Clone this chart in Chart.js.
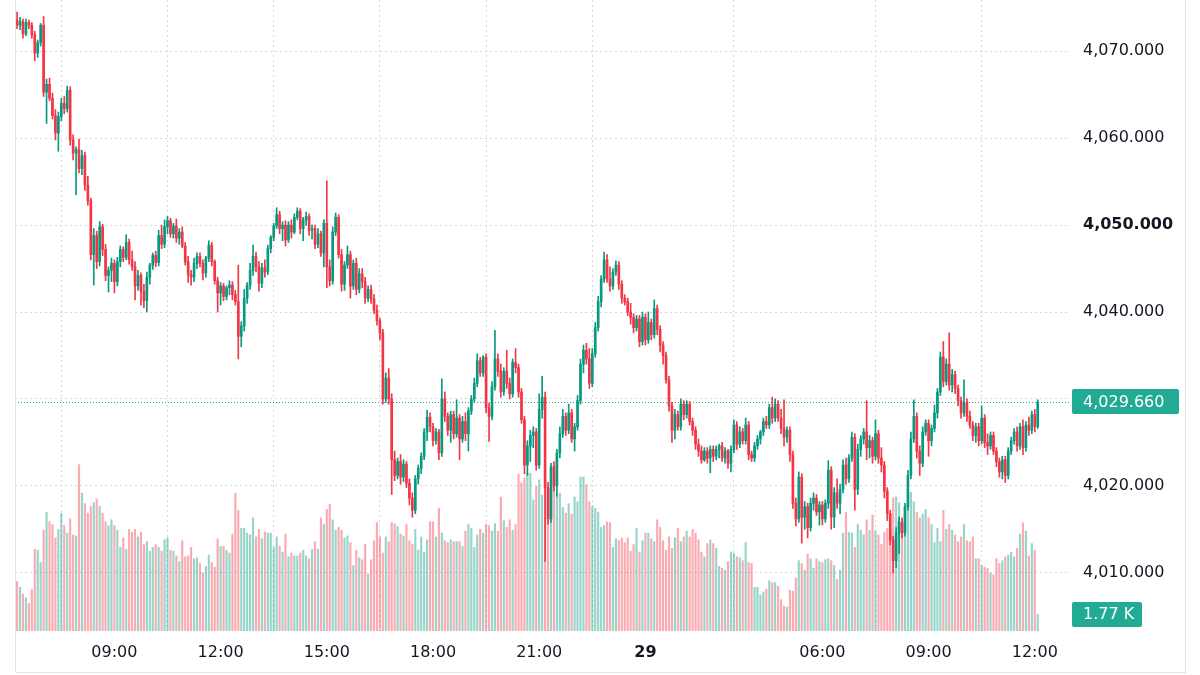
<!DOCTYPE html>
<html>
<head>
<meta charset="utf-8">
<script src="https://cdn.jsdelivr.net/npm/chart.js@4.4.1/dist/chart.umd.min.js"></script>
<style>
  html, body { margin: 0; padding: 0; background: #ffffff; }
  #wrap { width: 1200px; height: 675px; }
</style>
</head>
<body>
<div id="wrap"><canvas id="chart" width="1200" height="675"></canvas></div>
<script>
// 5-minute candles, 06:15 on the 28th to 12:05 on the 29th (market break 05:00-06:00)
const opens = [
  4073.6, 4073.0, 4073.4, 4072.0, 4073.3, 4073.0, 4071.9, 4069.8, 4071.0, 4073.0,
  4065.3, 4066.2, 4064.6, 4062.6, 4060.6, 4062.5, 4064.0, 4063.4, 4065.5, 4059.8,
  4058.3, 4058.7, 4056.5, 4058.0, 4054.6, 4052.8, 4046.6, 4048.8, 4045.8, 4049.8,
  4047.2, 4044.2, 4044.8, 4045.6, 4043.5, 4045.8, 4047.2, 4046.3, 4048.0, 4046.0,
  4045.2, 4043.0, 4044.2, 4042.4, 4041.3, 4044.0, 4045.4, 4046.5, 4045.7, 4048.8,
  4047.8, 4049.8, 4050.5, 4049.0, 4049.9, 4048.5, 4049.2, 4047.6, 4045.8, 4044.3,
  4044.0, 4045.6, 4046.4, 4045.6, 4044.5, 4046.2, 4047.7, 4045.8, 4043.6, 4042.2,
  4043.0, 4041.8, 4042.8, 4043.1, 4042.0, 4041.2, 4037.2, 4038.4, 4041.6, 4043.1,
  4044.8, 4046.4, 4045.2, 4043.3, 4045.1, 4044.6, 4047.3, 4048.6, 4049.9, 4051.2,
  4049.6, 4050.0, 4048.3, 4050.0, 4049.2, 4050.9, 4051.6, 4049.6, 4050.6, 4051.0,
  4049.4, 4049.6, 4047.8, 4049.0, 4046.8, 4050.2, 4045.2, 4043.6, 4049.2, 4050.9,
  4046.6, 4043.2, 4045.4, 4046.6, 4043.0, 4045.6, 4042.6, 4044.4, 4043.5, 4041.6,
  4042.6, 4041.5, 4040.2, 4039.0, 4037.6, 4030.0, 4032.4, 4030.0, 4023.0, 4021.2,
  4022.8, 4021.0, 4022.5, 4020.3, 4018.6, 4017.2, 4020.8, 4022.0, 4023.4, 4026.2,
  4027.9, 4026.8, 4025.2, 4026.2, 4023.8, 4030.0, 4028.0, 4026.4, 4028.2, 4026.0,
  4027.8, 4025.4, 4027.4, 4026.0, 4028.6, 4030.0, 4031.8, 4034.4, 4033.0, 4034.8,
  4029.0, 4028.0, 4031.4, 4034.6, 4033.2, 4030.8, 4033.2, 4031.8, 4030.6, 4034.2,
  4033.6, 4030.8, 4027.6, 4022.4, 4024.6, 4025.8, 4026.2, 4022.4, 4028.8, 4030.2,
  4019.8, 4016.2, 4022.2, 4020.0, 4023.8, 4026.0, 4028.0, 4026.4, 4028.4, 4025.4,
  4026.8, 4029.8, 4034.0, 4035.6, 4034.6, 4031.8, 4035.2, 4038.2, 4041.2, 4043.8,
  4046.0, 4043.8, 4043.0, 4044.6, 4045.4, 4043.2, 4041.6, 4041.2, 4040.0, 4039.4,
  4038.2, 4039.2, 4036.6, 4039.4, 4036.8, 4038.8, 4037.4, 4040.4, 4038.0, 4036.2,
  4035.0, 4032.2, 4029.2, 4026.4, 4028.2, 4026.8, 4029.4, 4028.2, 4029.4, 4027.4,
  4026.4, 4024.8, 4024.0, 4023.0, 4024.0, 4023.2, 4024.2, 4023.4, 4024.2, 4024.6,
  4023.2, 4024.0, 4022.6, 4024.2, 4027.0, 4024.8, 4026.2, 4025.2, 4027.0, 4023.6,
  4023.2, 4024.6, 4025.4, 4026.2, 4027.4, 4027.0, 4029.0, 4027.8, 4029.4, 4027.8,
  4026.6, 4025.6, 4026.4, 4023.6, 4018.0, 4016.2, 4021.0, 4016.4, 4017.6, 4015.2,
  4018.0, 4018.6, 4017.0, 4017.8, 4016.2, 4018.0, 4021.8, 4016.4, 4019.2, 4018.0,
  4019.6, 4022.4, 4020.8, 4023.2, 4025.6, 4019.6, 4024.2, 4025.4, 4026.2, 4024.4,
  4025.2, 4023.4, 4026.0, 4023.2, 4022.4, 4019.4, 4016.8, 4013.8, 4011.4, 4014.6,
  4015.8, 4014.6, 4017.6, 4021.2, 4025.4, 4028.0, 4024.0, 4022.6, 4026.2, 4027.2,
  4025.2, 4026.6, 4028.4, 4030.8, 4034.8, 4032.0, 4034.0, 4031.6, 4032.8, 4031.2,
  4029.8, 4028.4, 4029.6, 4028.0, 4027.0, 4025.8, 4026.8, 4025.2, 4027.8, 4025.0,
  4024.6, 4025.8, 4024.0, 4022.8, 4021.6, 4023.0, 4021.2, 4024.0, 4025.2, 4026.2,
  4024.6, 4026.8, 4024.4, 4027.0, 4026.4, 4028.2, 4026.8
];
const highs = [
  4074.5, 4073.9, 4073.7, 4073.7, 4073.6, 4073.3, 4072.3, 4071.3, 4073.2, 4074.0,
  4066.8, 4066.9, 4065.2, 4063.3, 4063.0, 4064.6, 4064.8, 4066.0, 4065.9, 4060.4,
  4059.0, 4059.9, 4058.6, 4058.4, 4055.6, 4053.1, 4049.6, 4049.3, 4050.4, 4050.1,
  4047.8, 4045.2, 4046.2, 4046.0, 4046.3, 4047.6, 4047.5, 4048.9, 4048.4, 4047.0,
  4045.8, 4044.8, 4044.5, 4043.2, 4044.6, 4045.6, 4046.8, 4047.0, 4049.4, 4050.0,
  4050.6, 4051.0, 4050.8, 4050.2, 4050.7, 4049.6, 4049.8, 4048.0, 4046.4, 4044.8,
  4046.2, 4046.8, 4046.8, 4046.0, 4046.4, 4048.2, 4048.0, 4046.0, 4044.0, 4043.4,
  4043.3, 4043.0, 4043.6, 4043.5, 4042.5, 4045.4, 4038.9, 4042.6, 4043.4, 4045.6,
  4047.7, 4046.9, 4045.8, 4045.6, 4046.0, 4047.7, 4048.8, 4050.2, 4052.0, 4051.6,
  4050.4, 4050.5, 4050.4, 4050.6, 4051.3, 4052.0, 4051.9, 4050.9, 4051.5, 4051.3,
  4050.0, 4050.0, 4049.6, 4049.3, 4050.6, 4055.1, 4046.0, 4049.8, 4051.4, 4051.2,
  4047.2, 4045.8, 4047.6, 4047.0, 4046.0, 4046.2, 4045.0, 4045.0, 4044.0, 4043.0,
  4043.1, 4042.0, 4040.8, 4039.3, 4038.0, 4033.0, 4033.5, 4030.6, 4024.0, 4023.2,
  4023.6, 4023.0, 4022.8, 4020.8, 4019.2, 4021.2, 4022.4, 4023.8, 4026.6, 4028.7,
  4028.4, 4027.2, 4026.6, 4026.5, 4032.3, 4030.8, 4028.4, 4028.6, 4028.6, 4029.9,
  4028.2, 4028.0, 4028.4, 4029.0, 4030.4, 4032.4, 4035.2, 4034.8, 4035.0, 4035.2,
  4029.5, 4032.0, 4037.9, 4035.2, 4034.0, 4033.6, 4035.6, 4032.4, 4034.6, 4035.8,
  4034.0, 4031.2, 4028.0, 4025.2, 4026.4, 4026.8, 4026.6, 4030.6, 4032.6, 4030.8,
  4020.4, 4022.6, 4022.8, 4024.2, 4026.8, 4028.8, 4028.4, 4029.4, 4028.8, 4027.2,
  4030.4, 4034.6, 4036.2, 4036.4, 4035.8, 4035.8, 4038.8, 4041.8, 4044.2, 4046.9,
  4046.6, 4045.2, 4045.0, 4045.9, 4045.8, 4043.6, 4042.0, 4041.6, 4041.0, 4039.8,
  4039.6, 4039.6, 4040.0, 4039.8, 4040.0, 4039.2, 4041.4, 4040.8, 4038.4, 4036.6,
  4035.4, 4032.6, 4029.6, 4028.8, 4028.6, 4030.0, 4029.8, 4029.8, 4029.7, 4027.8,
  4026.8, 4025.4, 4024.6, 4024.4, 4024.4, 4024.6, 4024.6, 4024.6, 4024.8, 4025.0,
  4024.4, 4024.2, 4024.6, 4027.6, 4027.4, 4026.8, 4026.6, 4027.8, 4027.4, 4024.0,
  4025.0, 4025.8, 4026.4, 4027.8, 4028.0, 4029.4, 4030.2, 4030.0, 4029.8, 4028.8,
  4029.9, 4026.8, 4026.8, 4024.0, 4018.6, 4021.6, 4021.4, 4018.2, 4018.0, 4018.6,
  4019.2, 4019.0, 4018.2, 4018.2, 4018.4, 4022.9, 4022.2, 4019.8, 4020.8, 4020.2,
  4023.0, 4023.2, 4023.6, 4026.2, 4026.0, 4024.8, 4025.8, 4026.6, 4029.8, 4025.8,
  4025.6, 4027.6, 4026.4, 4024.4, 4022.8, 4019.8, 4017.2, 4014.2, 4015.2, 4016.4,
  4016.2, 4018.0, 4021.8, 4026.2, 4029.9, 4028.4, 4024.6, 4026.8, 4027.6, 4027.6,
  4027.0, 4029.3, 4031.2, 4035.4, 4036.6, 4034.6, 4037.6, 4033.4, 4033.2, 4031.6,
  4030.2, 4032.2, 4030.0, 4028.6, 4027.4, 4027.2, 4027.2, 4029.2, 4028.2, 4026.0,
  4026.2, 4026.2, 4024.4, 4023.2, 4023.4, 4023.4, 4024.4, 4025.6, 4026.6, 4026.8,
  4027.2, 4027.6, 4027.4, 4027.9, 4028.6, 4028.8, 4029.9
];
const lows = [
  4072.6, 4072.5, 4071.5, 4071.8, 4072.6, 4071.5, 4068.9, 4069.3, 4070.6, 4064.8,
  4061.7, 4064.3, 4062.2, 4059.8, 4058.5, 4062.0, 4062.8, 4063.0, 4059.2, 4057.5,
  4053.5, 4056.0, 4055.8, 4054.0, 4052.3, 4046.0, 4043.1, 4045.0, 4045.3, 4046.5,
  4043.6, 4042.3, 4043.5, 4042.2, 4043.0, 4045.2, 4045.8, 4046.0, 4045.5, 4044.8,
  4041.4, 4042.5, 4040.8, 4040.5, 4040.0, 4043.2, 4044.9, 4045.2, 4045.3, 4047.3,
  4047.4, 4049.0, 4048.6, 4048.5, 4048.0, 4047.8, 4047.4, 4045.4, 4043.4, 4043.1,
  4043.5, 4045.0, 4045.2, 4043.7, 4044.0, 4045.8, 4045.3, 4043.2, 4040.0, 4040.8,
  4041.3, 4041.4, 4042.0, 4041.4, 4040.8, 4034.6, 4036.0, 4037.8, 4041.0, 4042.6,
  4044.2, 4044.6, 4042.4, 4042.8, 4044.0, 4044.3, 4046.8, 4048.2, 4049.6, 4049.0,
  4048.2, 4047.6, 4048.0, 4048.5, 4049.0, 4050.6, 4049.0, 4048.2, 4050.0, 4048.8,
  4048.4, 4047.3, 4047.4, 4046.4, 4045.2, 4042.8, 4043.0, 4043.2, 4048.8, 4046.2,
  4042.4, 4042.5, 4045.0, 4041.6, 4042.6, 4042.0, 4042.2, 4042.8, 4041.0, 4041.2,
  4041.0, 4039.8, 4038.5, 4036.8, 4029.4, 4029.6, 4029.4, 4019.0, 4020.6, 4020.8,
  4020.2, 4020.5, 4019.8, 4017.8, 4016.4, 4016.8, 4020.2, 4021.4, 4023.0, 4025.2,
  4026.2, 4024.6, 4024.8, 4023.0, 4023.4, 4027.4, 4025.8, 4025.0, 4025.4, 4025.6,
  4023.0, 4025.0, 4025.2, 4024.0, 4028.2, 4029.6, 4031.4, 4032.6, 4032.6, 4028.4,
  4025.1, 4027.6, 4031.0, 4032.6, 4030.2, 4030.4, 4031.2, 4030.0, 4030.2, 4033.0,
  4030.2, 4027.2, 4021.4, 4021.2, 4022.8, 4024.4, 4021.8, 4022.0, 4027.8, 4011.3,
  4015.6, 4015.8, 4019.4, 4018.8, 4023.2, 4025.6, 4025.8, 4026.0, 4025.0, 4024.0,
  4026.4, 4029.4, 4033.0, 4034.0, 4031.2, 4031.4, 4034.8, 4037.8, 4040.6, 4043.4,
  4043.4, 4042.4, 4042.6, 4044.2, 4042.6, 4041.0, 4040.8, 4039.6, 4038.6, 4037.6,
  4037.8, 4036.0, 4036.2, 4036.2, 4036.4, 4036.8, 4037.0, 4037.4, 4035.4, 4034.0,
  4031.8, 4028.6, 4025.0, 4025.4, 4026.4, 4026.4, 4027.6, 4027.8, 4027.0, 4025.8,
  4024.2, 4023.4, 4022.6, 4022.8, 4022.6, 4021.5, 4022.8, 4023.0, 4023.2, 4022.8,
  4022.6, 4022.0, 4021.6, 4023.8, 4024.2, 4024.4, 4024.8, 4024.8, 4023.0, 4022.8,
  4022.8, 4024.2, 4024.8, 4025.8, 4026.6, 4026.6, 4027.2, 4027.4, 4027.4, 4026.0,
  4024.6, 4025.0, 4022.8, 4017.4, 4015.4, 4015.8, 4013.4, 4015.0, 4014.0, 4014.8,
  4017.2, 4016.6, 4015.5, 4015.5, 4015.8, 4017.4, 4015.0, 4015.2, 4017.4, 4016.8,
  4019.2, 4020.2, 4020.4, 4022.8, 4017.2, 4019.0, 4023.4, 4024.8, 4023.0, 4023.2,
  4022.6, 4023.0, 4022.6, 4021.6, 4018.6, 4016.0, 4013.2, 4010.0, 4010.6, 4012.2,
  4014.0, 4014.2, 4017.2, 4020.8, 4025.0, 4023.2, 4021.2, 4022.2, 4025.8, 4023.4,
  4024.6, 4026.2, 4027.8, 4030.4, 4031.4, 4031.6, 4031.0, 4030.8, 4030.6, 4029.2,
  4027.8, 4028.0, 4027.4, 4026.6, 4025.2, 4025.0, 4024.6, 4024.8, 4024.4, 4023.6,
  4024.2, 4023.6, 4022.2, 4021.0, 4020.8, 4020.4, 4020.8, 4023.6, 4024.8, 4024.0,
  4024.2, 4023.6, 4024.0, 4025.8, 4026.0, 4026.2, 4026.6
];
const closes = [
  4073.0, 4073.4, 4072.0, 4073.3, 4073.0, 4071.9, 4069.8, 4071.0, 4073.0, 4065.3,
  4066.2, 4064.6, 4062.6, 4060.6, 4062.5, 4064.0, 4063.4, 4065.5, 4059.8, 4058.3,
  4058.7, 4056.5, 4058.0, 4054.6, 4052.8, 4046.6, 4048.8, 4045.8, 4049.8, 4047.2,
  4044.2, 4044.8, 4045.6, 4043.5, 4045.8, 4047.2, 4046.3, 4048.0, 4046.0, 4045.2,
  4043.0, 4044.2, 4042.4, 4041.3, 4044.0, 4045.4, 4046.5, 4045.7, 4048.8, 4047.8,
  4049.8, 4050.5, 4049.0, 4049.9, 4048.5, 4049.2, 4047.6, 4045.8, 4044.3, 4044.0,
  4045.6, 4046.4, 4045.6, 4044.5, 4046.2, 4047.7, 4045.8, 4043.6, 4042.2, 4043.0,
  4041.8, 4042.8, 4043.1, 4042.0, 4041.2, 4037.2, 4038.4, 4041.6, 4043.1, 4044.8,
  4046.4, 4045.2, 4043.3, 4045.1, 4044.6, 4047.3, 4048.6, 4049.9, 4051.2, 4049.6,
  4050.0, 4048.3, 4050.0, 4049.2, 4050.9, 4051.6, 4049.6, 4050.6, 4051.0, 4049.4,
  4049.6, 4047.8, 4049.0, 4046.8, 4050.2, 4045.2, 4043.6, 4049.2, 4050.9, 4046.6,
  4043.2, 4045.4, 4046.6, 4043.0, 4045.6, 4042.6, 4044.4, 4043.5, 4041.6, 4042.6,
  4041.5, 4040.2, 4039.0, 4037.6, 4030.0, 4032.4, 4030.0, 4023.0, 4021.2, 4022.8,
  4021.0, 4022.5, 4020.3, 4018.6, 4017.2, 4020.8, 4022.0, 4023.4, 4026.2, 4027.9,
  4026.8, 4025.2, 4026.2, 4023.8, 4030.0, 4028.0, 4026.4, 4028.2, 4026.0, 4027.8,
  4025.4, 4027.4, 4026.0, 4028.6, 4030.0, 4031.8, 4034.4, 4033.0, 4034.8, 4029.0,
  4028.0, 4031.4, 4034.6, 4033.2, 4030.8, 4033.2, 4031.8, 4030.6, 4034.2, 4033.6,
  4030.8, 4027.6, 4022.4, 4024.6, 4025.8, 4026.2, 4022.4, 4028.8, 4030.2, 4019.8,
  4016.2, 4022.2, 4020.0, 4023.8, 4026.0, 4028.0, 4026.4, 4028.4, 4025.4, 4026.8,
  4029.8, 4034.0, 4035.6, 4034.6, 4031.8, 4035.2, 4038.2, 4041.2, 4043.8, 4046.0,
  4043.8, 4043.0, 4044.6, 4045.4, 4043.2, 4041.6, 4041.2, 4040.0, 4039.4, 4038.2,
  4039.2, 4036.6, 4039.4, 4036.8, 4038.8, 4037.4, 4040.4, 4038.0, 4036.2, 4035.0,
  4032.2, 4029.2, 4026.4, 4028.2, 4026.8, 4029.4, 4028.2, 4029.4, 4027.4, 4026.4,
  4024.8, 4024.0, 4023.0, 4024.0, 4023.2, 4024.2, 4023.4, 4024.2, 4024.6, 4023.2,
  4024.0, 4022.6, 4024.2, 4027.0, 4024.8, 4026.2, 4025.2, 4027.0, 4023.6, 4023.2,
  4024.6, 4025.4, 4026.2, 4027.4, 4027.0, 4029.0, 4027.8, 4029.4, 4027.8, 4026.6,
  4025.6, 4026.4, 4023.6, 4018.0, 4016.2, 4021.0, 4016.4, 4017.6, 4015.2, 4018.0,
  4018.6, 4017.0, 4017.8, 4016.2, 4018.0, 4021.8, 4016.4, 4019.2, 4018.0, 4019.6,
  4022.4, 4020.8, 4023.2, 4025.6, 4019.6, 4024.2, 4025.4, 4026.2, 4024.4, 4025.2,
  4023.4, 4026.0, 4023.2, 4022.4, 4019.4, 4016.8, 4013.8, 4011.4, 4014.6, 4015.8,
  4014.6, 4017.6, 4021.2, 4025.4, 4028.0, 4024.0, 4022.6, 4026.2, 4027.2, 4025.2,
  4026.6, 4028.4, 4030.8, 4034.8, 4032.0, 4034.0, 4031.6, 4032.8, 4031.2, 4029.8,
  4028.4, 4029.6, 4028.0, 4027.0, 4025.8, 4026.8, 4025.2, 4027.8, 4025.0, 4024.6,
  4025.8, 4024.0, 4022.8, 4021.6, 4023.0, 4021.2, 4024.0, 4025.2, 4026.2, 4024.6,
  4026.8, 4024.4, 4027.0, 4026.4, 4028.2, 4026.8, 4029.66
];
// volume in thousands of contracts
const volumes = [
  5.2, 4.6, 3.9, 3.5, 2.9, 4.4, 8.6, 8.5, 7.2, 10.6,
  12.5, 11.5, 11.2, 9.8, 10.7, 12.4, 11.1, 10.3, 11.8, 10.1,
  10.0, 17.5, 14.5, 13.4, 12.4, 13.1, 13.5, 13.9, 13.1, 12.4,
  11.5, 11.1, 11.7, 11.1, 10.6, 8.8, 9.8, 8.6, 10.7, 10.4,
  10.7, 9.9, 10.4, 9.1, 9.4, 8.4, 8.8, 9.1, 8.8, 8.4,
  9.6, 9.8, 8.5, 8.4, 7.9, 7.3, 9.5, 7.8, 7.9, 8.8,
  7.6, 7.7, 7.1, 6.1, 6.8, 8.0, 7.2, 6.7, 9.7, 8.9,
  8.9, 8.5, 8.2, 10.2, 14.5, 12.7, 10.8, 10.8, 10.3, 10.1,
  11.9, 9.9, 10.7, 9.7, 10.4, 10.3, 10.3, 8.8, 9.9, 8.9,
  8.3, 10.2, 7.8, 8.2, 7.9, 7.9, 8.2, 8.5, 7.9, 7.6,
  8.6, 9.4, 8.6, 11.9, 11.2, 12.8, 13.3, 11.7, 10.6, 10.9,
  10.6, 9.8, 10.0, 9.3, 6.9, 8.5, 7.7, 7.5, 9.1, 6.0,
  7.5, 9.5, 11.4, 9.9, 8.2, 9.9, 9.4, 11.4, 11.3, 11.0,
  10.2, 10.0, 11.2, 9.5, 9.1, 10.7, 8.5, 9.9, 8.3, 9.6,
  11.5, 11.5, 9.9, 12.9, 10.3, 9.5, 9.3, 9.6, 9.4, 9.4,
  9.4, 8.9, 10.5, 11.2, 10.8, 8.8, 10.1, 10.7, 10.3, 11.2,
  11.1, 10.5, 11.3, 10.5, 14.1, 11.6, 10.9, 11.7, 10.6, 11.2,
  16.5, 15.6, 16.1, 16.6, 16.6, 13.8, 15.2, 15.9, 14.3, 16.1,
  14.6, 15.2, 16.2, 14.4, 14.5, 13.0, 12.4, 13.4, 12.3, 14.1,
  13.6, 16.2, 16.2, 15.4, 13.6, 13.1, 12.9, 12.5, 10.9, 11.1,
  11.5, 11.4, 8.8, 9.7, 9.5, 9.8, 9.3, 9.8, 8.4, 9.1,
  10.8, 8.3, 9.5, 10.3, 10.3, 9.7, 9.4, 11.7, 10.9, 9.5,
  8.5, 9.9, 8.7, 9.8, 10.8, 9.4, 9.9, 10.5, 9.9, 10.7,
  10.3, 9.6, 8.3, 7.8, 9.2, 9.6, 9.2, 8.7, 6.8, 6.6,
  6.4, 7.3, 8.3, 8.2, 7.8, 7.7, 7.4, 9.3, 7.2, 7.1,
  4.6, 4.6, 3.8, 4.1, 4.4, 5.3, 5.1, 5.1, 4.7, 3.3,
  2.6, 2.5, 4.3, 4.2, 5.6, 7.4, 7.1, 6.4, 8.1, 7.6,
  6.6, 7.6, 7.3, 7.2, 7.5, 7.6, 7.4, 6.9, 5.4, 6.4,
  10.3, 12.5, 10.4, 10.3, 8.8, 11.2, 10.6, 10.1, 11.7, 10.6,
  12.2, 10.5, 10.1, 9.1, 10.4, 10.8, 10.4, 14.0, 14.1, 13.5,
  12.0, 13.1, 13.5, 14.6, 13.6, 12.5, 11.9, 12.3, 12.8, 11.9,
  11.2, 9.3, 10.8, 9.4, 12.7, 10.7, 11.2, 10.6, 10.1, 9.4,
  9.9, 11.2, 9.5, 9.4, 9.9, 7.6, 7.6, 6.9, 6.7, 6.6,
  6.1, 5.9, 7.6, 7.1, 7.4, 7.8, 8.0, 8.3, 7.8, 8.7,
  10.2, 11.4, 10.5, 7.9, 9.2, 8.5, 1.77
];
// candle index of each time label on the bottom axis
const tickIdx = [33, 69, 105, 141, 177, 213, 273, 309, 345];
const tickLabels = ['09:00', '12:00', '15:00', '18:00', '21:00', '29', '06:00', '09:00', '12:00'];
const priceTicks = [4010, 4020, 4030, 4040, 4050, 4060, 4070];

const UP = '#089981';
const DOWN = '#f23645';
const UP_VOL = 'rgba(8, 153, 129, 0.42)';
const DOWN_VOL = 'rgba(242, 54, 69, 0.42)';
const LAST = '#22ab94';
const TEXT = '#131722';
const GRID = '#d5d8de';
const FONT = 'DejaVu Sans';

const isUp = closes.map((c, i) => c >= opens[i]);
const wickData = closes.map((c, i) => ({ x: i, y: [lows[i], highs[i]] }));
const bodyData = closes.map((c, i) => ({ x: i, y: [opens[i], c] }));
const volData = volumes.map((v, i) => ({ x: i, y: v }));

const fmtPrice = (v) => v.toLocaleString('en-US', { minimumFractionDigits: 3, maximumFractionDigits: 3 });

const noPad = (scale) => {
  scale.paddingTop = 0;
  scale.paddingBottom = 0;
  scale.paddingLeft = 0;
  scale.paddingRight = 0;
};

const overlay = {
  id: 'overlay',
  beforeDatasetsDraw(chart) {
    const { ctx, chartArea, scales } = chart;
    const y = Math.round(scales.y.getPixelForValue(closes[closes.length - 1])) + 0.5;
    ctx.save();
    ctx.strokeStyle = LAST;
    ctx.lineWidth = 1;
    ctx.setLineDash([1, 2]);
    ctx.beginPath();
    ctx.moveTo(chartArea.left, y);
    ctx.lineTo(chartArea.right, y);
    ctx.stroke();
    ctx.restore();
  },
  afterDraw(chart) {
    const { ctx, chartArea, scales } = chart;
    ctx.save();
    // frame
    ctx.strokeStyle = '#e0e3eb';
    ctx.lineWidth = 1;
    ctx.beginPath();
    ctx.moveTo(15.5, 0);
    ctx.lineTo(15.5, 672.5);
    ctx.lineTo(1185.5, 672.5);
    ctx.lineTo(1185.5, 0);
    ctx.stroke();

    // last price / last volume labels
    const boxX = chartArea.right + 3;
    ctx.font = '16px "' + FONT + '"';
    ctx.textBaseline = 'middle';
    ctx.textAlign = 'left';

    const py = scales.y.getPixelForValue(closes[closes.length - 1]);
    ctx.fillStyle = LAST;
    ctx.beginPath();
    ctx.roundRect(boxX, Math.round(py - 12.5), 107, 25, 2);
    ctx.fill();
    ctx.fillStyle = '#ffffff';
    ctx.fillText(fmtPrice(closes[closes.length - 1]), chartArea.right + 14, py + 1);

    const vy = scales.vol.getPixelForValue(volumes[volumes.length - 1]);
    ctx.fillStyle = LAST;
    ctx.beginPath();
    ctx.roundRect(boxX, Math.round(vy - 12.5), 70, 25, 2);
    ctx.fill();
    ctx.fillStyle = '#ffffff';
    ctx.fillText(volumes[volumes.length - 1].toFixed(2) + ' K', chartArea.right + 14, vy + 1);
    ctx.restore();
  }
};

new Chart(document.getElementById('chart').getContext('2d'), {
  type: 'bar',
  data: {
    datasets: [
      {
        label: 'Volume',
        data: volData,
        yAxisID: 'vol',
        backgroundColor: isUp.map(u => u ? UP_VOL : DOWN_VOL),
        barThickness: 1.5,
        order: 3
      },
      {
        label: 'Wick',
        data: wickData,
        yAxisID: 'y',
        backgroundColor: isUp.map(u => u ? UP : DOWN),
        barThickness: 1,
        order: 2
      },
      {
        label: 'Body',
        data: bodyData,
        yAxisID: 'y',
        backgroundColor: isUp.map(u => u ? UP : DOWN),
        barThickness: 2,
        minBarLength: 1,
        order: 1
      }
    ]
  },
  options: {
    responsive: false,
    animation: false,
    devicePixelRatio: 1,
    layout: { padding: { left: 15, right: 15, top: 0, bottom: 3 } },
    datasets: { bar: { grouped: false } },
    plugins: {
      legend: { display: false },
      tooltip: { enabled: false }
    },
    scales: {
      x: {
        type: 'linear',
        min: -0.7,
        max: 356.6,
        offset: false,
        grid: { color: GRID, lineWidth: 1, drawTicks: false },
        border: { display: false, dash: [2, 3] },
        afterBuildTicks: (scale) => { scale.ticks = tickIdx.map(v => ({ value: v })); },
        afterFit: (scale) => { scale.height = 41; noPad(scale); },
        ticks: {
          autoSkip: false,
          maxRotation: 0,
          padding: 12,
          color: TEXT,
          font: (c) => ({ family: FONT, size: 16, weight: c.tick && c.tick.value === 213 ? 'bold' : 'normal' }),
          callback: (v) => tickLabels[tickIdx.indexOf(v)]
        }
      },
      y: {
        position: 'right',
        min: 4003.3,
        max: 4075.9,
        grid: { color: GRID, lineWidth: 1, drawTicks: false },
        border: { display: false, dash: [2, 3] },
        afterBuildTicks: (scale) => { scale.ticks = priceTicks.map(v => ({ value: v })); },
        afterFit: (scale) => { scale.width = 116; noPad(scale); },
        ticks: {
          padding: 14,
          color: TEXT,
          font: (c) => ({ family: FONT, size: 16, weight: c.tick && c.tick.value === 4050 ? 'bold' : 'normal' }),
          callback: (v) => (v === 4030 ? '' : fmtPrice(v))
        }
      },
      vol: {
        display: false,
        min: 0,
        max: 66.4
      }
    }
  },
  plugins: [overlay]
});
</script>
</body>
</html>
